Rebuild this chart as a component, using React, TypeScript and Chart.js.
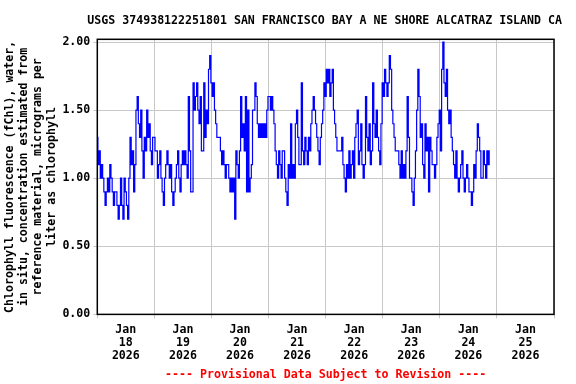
import { useEffect, useRef } from 'react';
import { Chart, registerables } from 'chart.js';

Chart.register(...registerables);

const stationTitle = 'USGS 374938122251801 SAN FRANCISCO BAY A NE SHORE ALCATRAZ ISLAND CA';
const yAxisTitle = [
  'Chlorophyll fluorescence (fChl), water,',
  'in situ, concentration estimated from',
  'reference material, micrograms per',
  'liter as chlorophyll',
];
const provisionalNote = '---- Provisional Data Subject to Revision ----';
const monthLabel = 'Jan';
const yearLabel = '2026';
const dayLabels = ['18', '19', '20', '21', '22', '23', '24', '25'];
const yTickValues = [0, 0.5, 1, 1.5, 2];
const stepHours = 0.5;

// half-hourly values, starting Jan 18 00:00
const chlJan18 = [1.3,1.1, 1.2,1.0, 1.1,1.0, 0.9,0.8, 0.9,1.0, 0.9,1.1, 1.0,0.9, 0.8,0.9, 0.9,0.8, 0.7,0.8, 1.0,0.8, 0.7,1.0, 0.9,0.8, 0.7,1.0, 1.3,1.1, 1.2,0.9, 1.1,1.5, 1.6,1.4, 1.3,1.5, 1.2,1.0, 1.3,1.2, 1.5,1.3, 1.4,1.2, 1.1,1.3];
const chlJan19 = [1.3,1.2, 1.2,1.0, 1.1,1.2, 1.0,0.9, 0.8,1.0, 1.1,1.2, 1.1,1.0, 1.1,0.9, 0.8,0.9, 1.0,1.1, 1.2,1.0, 0.9,1.1, 1.2,1.1, 1.2,1.1, 1.0,1.6, 1.2,0.9, 0.9,1.7, 1.5,1.6, 1.7,1.5, 1.4,1.6, 1.2,1.2, 1.7,1.3, 1.5,1.4, 1.8,1.9];
const chlJan20 = [1.7,1.6, 1.7,1.5, 1.4,1.3, 1.3,1.3, 1.2,1.1, 1.2,1.1, 1.0,1.1, 1.1,1.0, 0.9,1.0, 0.9,1.0, 0.7,1.2, 1.1,1.0, 1.2,1.6, 1.3,1.4, 1.2,1.6, 0.9,1.5, 0.9,1.0, 1.1,1.5, 1.5,1.7, 1.6,1.4, 1.3,1.4, 1.3,1.4, 1.3,1.4, 1.3,1.5];
const chlJan21 = [1.6,1.6, 1.5,1.6, 1.5,1.4, 1.2,1.1, 1.0,1.2, 1.1,1.0, 1.2,1.2, 1.0,0.9, 0.8,1.1, 1.0,1.4, 1.0,1.1, 1.0,1.4, 1.5,1.3, 1.1,1.1, 1.7,1.2, 1.1,1.3, 1.2,1.1, 1.3,1.2, 1.4,1.5, 1.6,1.5, 1.4,1.3, 1.2,1.1, 1.3,1.4, 1.5,1.7];
const chlJan22 = [1.6,1.8, 1.7,1.8, 1.6,1.7, 1.8,1.5, 1.4,1.3, 1.2,1.2, 1.2,1.2, 1.3,1.1, 1.0,0.9, 1.1,1.0, 1.2,1.0, 1.1,1.2, 1.0,1.3, 1.4,1.5, 1.1,1.2, 1.4,1.1, 1.0,1.1, 1.6,1.3, 1.2,1.4, 1.1,1.2, 1.7,1.4, 1.3,1.5, 1.3,1.2, 1.1,1.4];
const chlJan23 = [1.7,1.6, 1.8,1.7, 1.6,1.7, 1.9,1.8, 1.5,1.4, 1.3,1.2, 1.2,1.2, 1.1,1.0, 1.2,1.0, 1.1,1.0, 1.2,1.6, 1.3,1.0, 1.0,0.9, 0.8,1.0, 1.2,1.5, 1.8,1.6, 1.3,1.4, 1.1,1.0, 1.4,1.2, 1.3,0.9, 1.3,1.2, 1.1,1.1, 1.0,1.1, 1.3,1.4];
const chlJan24 = [1.5,1.2, 1.8,2.0, 1.7,1.6, 1.8,1.5, 1.4,1.5, 1.3,1.2, 1.1,1.0, 1.2,1.0, 0.9,1.0, 1.1,1.2, 1.0,0.9, 1.0,1.1, 1.0,0.9, 0.9,0.8, 0.9,1.1, 1.0,1.2, 1.4,1.3, 1.2,1.0, 1.0,1.2, 1.1,1.0, 1.2,1.1, 1.2];

const FONT_FAMILY = "'DejaVu Sans Mono', monospace";
const GRID = '#c8c8c8';

const boxPlugin = {
  id: 'plotBox',
  afterDraw(chart: any) {
    const { ctx, chartArea } = chart;
    ctx.save();
    ctx.strokeStyle = '#000000';
    ctx.lineWidth = 1.5;
    ctx.strokeRect(chartArea.left, chartArea.top, chartArea.right - chartArea.left, chartArea.bottom - chartArea.top);
    ctx.fillStyle = '#000000';
    ctx.font = `bold 11.6px ${FONT_FAMILY}`;
    ctx.textAlign = 'center';
    ctx.textBaseline = 'middle';
    ctx.fillText(stationTitle, (chartArea.left + chartArea.right) / 2 - 1, 21);
    ctx.restore();
  },
};

export default function App() {
  const canvasRef = useRef<HTMLCanvasElement | null>(null);

  useEffect(() => {
    document.body.style.margin = '0';
    const canvas = canvasRef.current;
    if (!canvas) return;
    const all = [...chlJan18, ...chlJan19, ...chlJan20, ...chlJan21, ...chlJan22, ...chlJan23, ...chlJan24];
    const points = all.map((v, i) => ({ x: (i * stepHours) / 24, y: v }));
    const font = { family: FONT_FAMILY, size: 11.6, weight: 'bold' as const };

    const chart = new Chart(canvas, {
      type: 'line',
      data: {
        datasets: [
          {
            data: points,
            borderColor: '#0000ff',
            borderWidth: 1.2,
            pointRadius: 0,
            tension: 0,
            stepped: 'middle',
            fill: false,
          },
        ],
      },
      options: {
        responsive: false,
        animation: false,
        layout: { padding: { left: 0, right: 22, top: 39.3, bottom: 0 } },
        plugins: {
          legend: { display: false },
          tooltip: { enabled: false },
          title: { display: false },
          subtitle: {
            display: true,
            position: 'bottom',
            text: provisionalNote,
            color: '#ff0000',
            font,
            fullSize: false,
            padding: { top: 4, bottom: 2 },
          },
        },
        scales: {
          x: {
            type: 'linear',
            min: 0,
            max: 8,
            afterBuildTicks: (scale: any) => {
              const t = [];
              for (let k = 0; k <= 16; k++) t.push({ value: k * 0.5 });
              scale.ticks = t;
            },
            afterFit: (scale: any) => {
              scale.height = 49.7;
            },
            border: { display: false },
            grid: {
              color: (ctx: any) => (ctx.tick && Number.isInteger(ctx.tick.value) ? GRID : 'rgba(0,0,0,0)'),
              tickColor: (ctx: any) => (ctx.tick && Number.isInteger(ctx.tick.value) ? GRID : 'rgba(0,0,0,0)'),
              tickLength: 4,
              lineWidth: 1,
            },
            ticks: {
              autoSkip: false,
              maxRotation: 0,
              minRotation: 0,
              padding: 5,
              color: '#000000',
              font: { ...font, lineHeight: 13 / 11.6 },
              callback: (value: any) => {
                const v = Number(value);
                if (Number.isInteger(v)) return '';
                return [monthLabel, dayLabels[Math.floor(v)], yearLabel];
              },
            },
          },
          y: {
            type: 'linear',
            min: 0,
            max: 2.02,
            afterBuildTicks: (scale: any) => {
              scale.ticks = yTickValues.map((v) => ({ value: v }));
            },
            afterFit: (scale: any) => {
              scale.width = 97.3;
            },
            border: { display: false },
            grid: { color: GRID, tickColor: GRID, tickLength: 4, lineWidth: 1 },
            ticks: {
              padding: 3,
              color: '#000000',
              font,
              callback: (value: any) => Number(value).toFixed(2),
            },
            title: {
              display: true,
              text: yAxisTitle,
              color: '#000000',
              font: { ...font, lineHeight: 14 / 11.6 },
              padding: { top: 3, bottom: 0 },
            },
          },
        },
      },
      plugins: [boxPlugin],
    });

    return () => {
      chart.destroy();
    };
  }, []);

  return (
    <div style={{ width: 576, height: 384 }}>
      <canvas ref={canvasRef} width={576} height={384} style={{ display: 'block' }} />
    </div>
  );
}
